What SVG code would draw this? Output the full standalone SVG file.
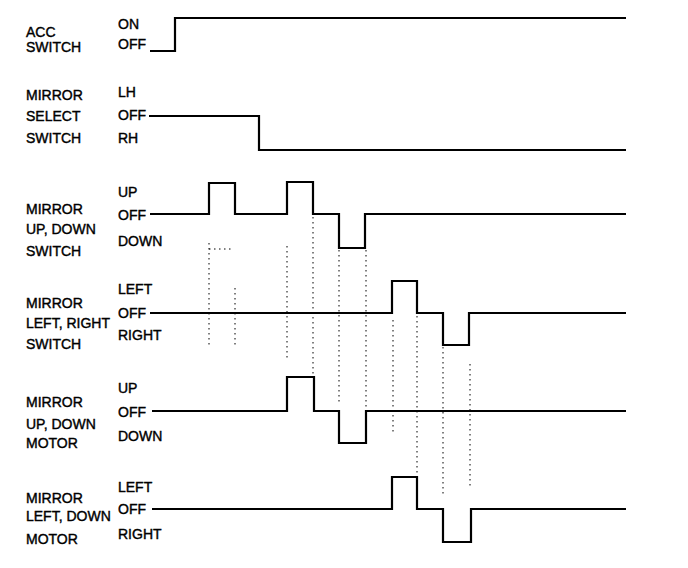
<svg xmlns="http://www.w3.org/2000/svg" width="688" height="568" viewBox="0 0 688 568">
<style>
text{font-family:"Liberation Sans",Arial,sans-serif;font-size:14px;fill:#000;stroke:#000;stroke-width:0.4}
.w{fill:none;stroke:#000;stroke-width:2.2;stroke-linejoin:miter}
.g{fill:none;stroke:#000;stroke-width:1;stroke-dasharray:1.5 3.5}
</style>
<rect width="688" height="568" fill="#fff"/>
<g id="acc-switch">
<text x="26" y="37">ACC</text>
<text x="26" y="52">SWITCH</text>
<text x="118" y="29">ON</text>
<text x="118" y="49">OFF</text>
<path class="w" d="M150,51 H175 V18 H626"/>
</g>
<g id="mirror-select-switch">
<text x="26" y="100">MIRROR</text>
<text x="26" y="121">SELECT</text>
<text x="26" y="143">SWITCH</text>
<text x="118" y="97">LH</text>
<text x="118" y="120">OFF</text>
<text x="118" y="143">RH</text>
<path class="w" d="M149,116 H259 V150 H626"/>
</g>
<g id="mirror-updown-switch">
<text x="26" y="214">MIRROR</text>
<text x="26" y="234">UP, DOWN</text>
<text x="26" y="256">SWITCH</text>
<text x="118" y="197">UP</text>
<text x="118" y="220">OFF</text>
<text x="118" y="246">DOWN</text>
<path class="w" d="M150,214 H209 V183 H235 V214 H287 V182 H313 V214 H339 V248 H365 V214 H626"/>
</g>
<g id="mirror-leftright-switch">
<text x="26" y="308">MIRROR</text>
<text x="26" y="328">LEFT, RIGHT</text>
<text x="26" y="349">SWITCH</text>
<text x="118" y="294">LEFT</text>
<text x="118" y="318">OFF</text>
<text x="118" y="340">RIGHT</text>
<path class="w" d="M150,313 H392 V281 H417 V313 H443 V345 H469 V313 H626"/>
</g>
<g id="mirror-updown-motor">
<text x="26" y="407">MIRROR</text>
<text x="26" y="429">UP, DOWN</text>
<text x="26" y="448">MOTOR</text>
<text x="118" y="393">UP</text>
<text x="118" y="417">OFF</text>
<text x="118" y="441">DOWN</text>
<path class="w" d="M152,411 H287 V377 H314 V411 H339 V443 H366 V411 H626"/>
</g>
<g id="mirror-leftright-motor">
<text x="26" y="503">MIRROR</text>
<text x="26" y="521">LEFT, DOWN</text>
<text x="26" y="544">MOTOR</text>
<text x="118" y="492">LEFT</text>
<text x="118" y="514">OFF</text>
<text x="118" y="539">RIGHT</text>
<path class="w" d="M152,509 H392 V477 H417 V509 H443 V542 H471 V509 H626"/>
</g>
<g id="connectors">
<path class="g" d="M209,243 V347 M209,249 H232 M235,288 V347 M287,246 V360 M313,217 V375 M339,250 V405 M366,250 V415 M393,320 V432 M417,316 V475 M443,347 V495 M470,364 V488"/>
</g>
</svg>
